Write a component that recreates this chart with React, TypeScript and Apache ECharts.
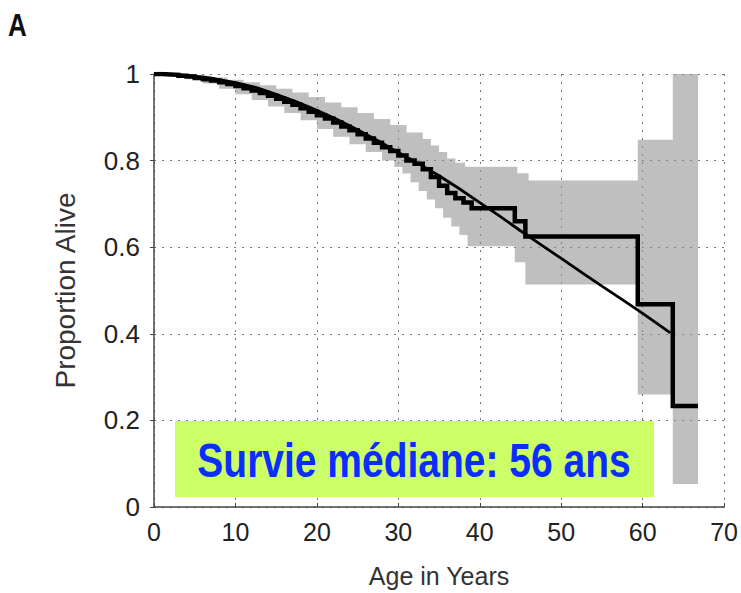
import React, { useEffect, useRef } from "react";
import * as echarts from "echarts";

// ---- data ----
const panelLabel = "A";
const annotationText = "Survie médiane: 56 ans";
const xAxisTitle = "Age in Years";
const yAxisTitle = "Proportion Alive";

// Kaplan-Meier estimate (step curve)
const kmAge = [0, 1, 2, 3, 4, 5, 6, 7, 8, 9, 10, 11, 12, 13, 14, 15, 16, 17, 18, 19, 20, 21, 22, 23, 24, 25, 26, 27, 28, 29, 30, 31, 32, 33, 34, 35, 36, 37, 38, 39, 44.3, 45.6, 59.4, 63.7, 66.8];
const kmSurv = [1, 0.999, 0.998, 0.996, 0.994, 0.991, 0.988, 0.985, 0.981, 0.977, 0.972, 0.967, 0.962, 0.956, 0.95, 0.943, 0.936, 0.929, 0.921, 0.913, 0.905, 0.897, 0.888, 0.879, 0.87, 0.861, 0.851, 0.841, 0.831, 0.822, 0.812, 0.8, 0.793, 0.78, 0.762, 0.742, 0.725, 0.713, 0.703, 0.69, 0.66, 0.625, 0.468, 0.233, 0.233];

// fitted parametric survival curve (thin line)
const fitAge = [0, 2.5, 5, 7.5, 10, 12.5, 15, 17.5, 20, 22.5, 25, 27.5, 30, 32.5, 35, 37.5, 40, 42.5, 45, 47.5, 50, 52.5, 55, 57.5, 60, 63.4];
const fitSurv = [1, 0.999, 0.995, 0.989, 0.98, 0.969, 0.953, 0.936, 0.916, 0.895, 0.871, 0.846, 0.819, 0.793, 0.765, 0.735, 0.703, 0.671, 0.638, 0.606, 0.574, 0.542, 0.51, 0.479, 0.447, 0.402];

// confidence band, upper bound (step)
const ciUpperAge = [0, 3, 5, 7, 9, 11, 13, 15, 17, 19, 21, 23, 25, 27, 29, 31, 33, 34, 35, 36, 37, 38.2, 44.6, 46, 59.4, 63.7, 66.8];
const ciUpperSurv = [1, 0.999, 0.996, 0.992, 0.987, 0.981, 0.974, 0.966, 0.957, 0.947, 0.934, 0.923, 0.91, 0.896, 0.882, 0.865, 0.85, 0.835, 0.82, 0.805, 0.795, 0.786, 0.771, 0.754, 0.848, 1.0, 1.0];

// confidence band, lower bound (step)
const ciLowerAge = [0, 2, 4, 6, 8, 10, 12, 14, 16, 18, 20, 22, 24, 26, 28, 29.5, 30.5, 31.5, 32.5, 33.5, 34.5, 35.5, 36.5, 37.5, 38.5, 44.3, 45.6, 59.4, 63.7, 66.8];
const ciLowerSurv = [1, 0.995, 0.988, 0.978, 0.966, 0.953, 0.94, 0.925, 0.91, 0.893, 0.873, 0.855, 0.838, 0.82, 0.8, 0.785, 0.77, 0.75, 0.73, 0.71, 0.69, 0.668, 0.648, 0.628, 0.602, 0.565, 0.514, 0.26, 0.053, 0.053];

const FONT = "'Liberation Sans', Arial, Helvetica, sans-serif";

function stepPoints(xs: number[], ys: number[]): number[][] {
  const pts: number[][] = [];
  for (let i = 0; i < xs.length - 1; i++) {
    pts.push([xs[i], ys[i]]);
    pts.push([xs[i + 1], ys[i]]);
  }
  return pts;
}

export default function App() {
  const ref = useRef<HTMLDivElement>(null);

  useEffect(() => {
    if (!ref.current) return;
    const chart = echarts.init(ref.current, undefined, { renderer: "svg" });

    const upperPts = stepPoints(ciUpperAge, ciUpperSurv);
    const lowerPts = stepPoints(ciLowerAge, ciLowerSurv).reverse();
    const bandPts = upperPts.concat(lowerPts);

    const option: any = {
      animation: false,
      backgroundColor: "#ffffff",
      grid: { left: 154, right: 13, top: 74, bottom: 85, containLabel: false },
      xAxis: {
        type: "value",
        min: 0,
        max: 70,
        interval: 10,
        name: xAxisTitle,
        nameLocation: "middle",
        nameGap: 56,
        nameTextStyle: { fontFamily: FONT, fontSize: 25, color: "#333" },
        axisLine: { show: true, onZero: false, lineStyle: { color: "#444", width: 1.5 } },
        axisTick: { show: true, inside: true, length: 4, lineStyle: { color: "#444" } },
        axisLabel: { fontFamily: FONT, fontSize: 25, color: "#222", margin: 12 },
        splitLine: { show: true, lineStyle: { color: "#777", width: 1, type: [2, 6] } },
      },
      yAxis: {
        type: "value",
        min: 0,
        max: 1,
        interval: 0.2,
        name: yAxisTitle,
        nameLocation: "middle",
        nameRotate: 90,
        nameGap: 75,
        nameTextStyle: { fontFamily: FONT, fontSize: 28, color: "#333" },
        axisLine: { show: true, onZero: false, lineStyle: { color: "#444", width: 1.5 } },
        axisTick: { show: true, inside: false, length: 4, lineStyle: { color: "#444" } },
        axisLabel: { fontFamily: FONT, fontSize: 26, color: "#222", margin: 14 },
        splitLine: { show: true, lineStyle: { color: "#777", width: 1, type: [2, 6] } },
      },
      series: [
        {
          type: "custom",
          name: "CI",
          coordinateSystem: "cartesian2d",
          data: [[0, 0]],
          z: 1,
          renderItem: (params: any, api: any) => {
            const points = bandPts.map((p) => api.coord(p));
            return {
              type: "polygon",
              shape: { points },
              style: { fill: "rgba(140,140,140,0.56)", stroke: "none" },
            };
          },
        },
        {
          type: "line",
          name: "fit",
          data: fitAge.map((a, i) => [a, fitSurv[i]]),
          smooth: false,
          showSymbol: false,
          lineStyle: { color: "#000", width: 2.8 },
          z: 3,
        },
        {
          type: "line",
          name: "KM",
          data: kmAge.map((a, i) => [a, kmSurv[i]]),
          step: "end",
          showSymbol: false,
          lineStyle: { color: "#000", width: 4.5, join: "miter" },
          z: 4,
        },
      ],
      graphic: [
        {
          type: "text",
          x: 8,
          y: 25,
          scaleY: 1.2,
          style: {
            text: panelLabel,
            fontFamily: FONT,
            fontWeight: "bold",
            fontSize: 26,
            fill: "#111",
            textAlign: "left",
            textVerticalAlign: "middle",
          },
        },
        {
          type: "rect",
          x: 175,
          y: 421,
          shape: { width: 479, height: 76 },
          style: { fill: "#ccff66" },
          z: 10,
        },
        {
          type: "text",
          x: 414,
          y: 460,
          scaleY: 1.25,
          z: 11,
          style: {
            text: annotationText,
            fontFamily: FONT,
            fontWeight: "bold",
            fontSize: 39,
            fill: "#0b2dff",
            textAlign: "center",
            textVerticalAlign: "middle",
          },
        },
      ],
    };

    chart.setOption(option);
    return () => chart.dispose();
  }, []);

  return (
    <div
      ref={ref}
      style={{ position: "fixed", left: 0, top: 0, width: 741, height: 593 }}
    />
  );
}
